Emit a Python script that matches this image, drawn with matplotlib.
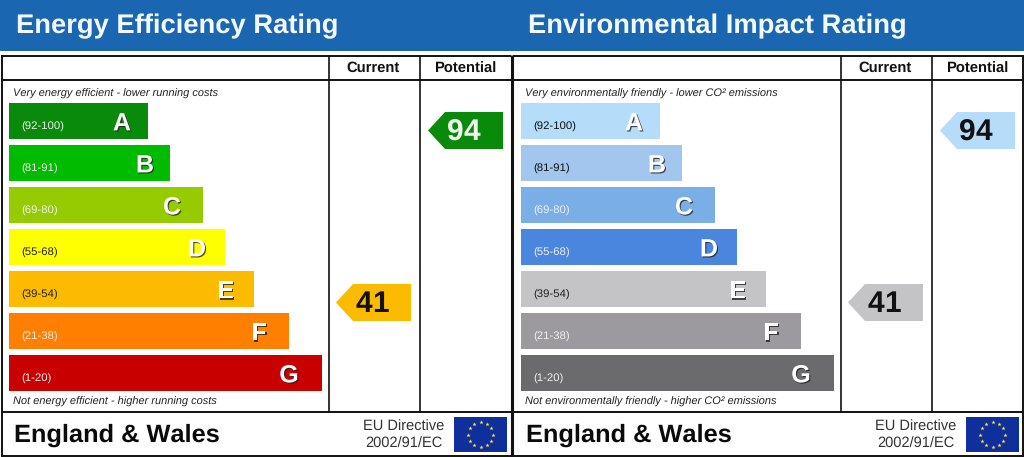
import numpy as np
import matplotlib
matplotlib.use('Agg')
import matplotlib.pyplot as plt
import matplotlib.patheffects as pe
from matplotlib.patches import Rectangle, Polygon

plt.rcParams['font.family'] = ['Liberation Sans', 'DejaVu Sans']
plt.rcParams['text.hinting'] = 'none'
plt.rcParams['text.kerning_factor'] = 6

letters = ['A', 'B', 'C', 'D', 'E', 'F', 'G']
ranges = ['(92-100)', '(81-91)', '(69-80)', '(55-68)', '(39-54)', '(21-38)', '(1-20)']
bar_widths = [139, 161, 194, 216, 245, 280, 313]
letter_offsets = [26, 25, 31, 28, 28, 30, 33]
energy_colors = ['#0a8a0a', '#00bb00', '#95cb00', '#ffff00', '#fdbb00', '#ff7f00', '#c80000']
energy_range_colors = ['#eeeeee', '#eeeeee', '#eeeeee', '#222222', '#222222', '#eeeeee', '#eeeeee']
impact_colors = ['#b5dcf8', '#a3c6ee', '#7aaee6', '#4a86dd', '#c4c3c6', '#9c9a9f', '#6b6a6d']
impact_range_colors = ['#111111', '#111111', '#eeeeee', '#eeeeee', '#222222', '#eeeeee', '#eeeeee']
current = 41
potential = 94

fig = plt.figure(figsize=(10.24, 4.57), dpi=100)
ax = fig.add_axes([0, 0, 1, 1])
ax.set_xlim(0, 1024)
ax.set_ylim(457, 0)
ax.axis('off')


def pointer(x, y, value, color, txt):
    # arrow pointing left, 75 wide and 37 high
    pts = [(x, y + 18.5), (x + 17, y), (x + 75, y), (x + 75, y + 37), (x + 17, y + 37)]
    ax.add_patch(Polygon(pts, closed=True, fc=color, ec='none'))
    # digits one by one, the font packs them too tight otherwise
    for k, digit in enumerate(str(value)):
        ax.text(x + 27.5 + 16.5 * k, y + 28.5, digit, color=txt, fontsize=21.5, fontweight='bold',
                ha='center', va='baseline')


def panel(x0, title, top, bottom, colors, range_colors, arrow, arrow_txt):
    ax.add_patch(Rectangle((x0, 0), 512, 50.5, fc='#1a66b0', ec='none'))
    ax.text(x0 + 16, 33, title, color='#f2f8fc', fontsize=19.7, fontweight='bold', va='baseline')

    # frame
    for yy in [56, 79.5, 411.5, 455.5]:
        ax.plot([x0 + 1, x0 + 511], [yy, yy], color='#111111', lw=1.4, solid_capstyle='butt')
    ax.plot([x0 + 328.5, x0 + 328.5], [55.5, 411.5], color='#111111', lw=1.2)
    ax.plot([x0 + 419.5, x0 + 419.5], [55.5, 411.5], color='#111111', lw=1.2)

    ax.text(x0 + 373, 72, 'Current', color='#111111', fontsize=10.6, fontweight='bold',
            ha='center', va='baseline')
    ax.text(x0 + 465, 72.6, 'Potential', color='#111111', fontsize=10.6, fontweight='bold',
            ha='center', va='baseline')

    ax.text(x0 + 13, 96.5, top, color='#222222', fontsize=7.9, style='italic', va='baseline')
    ax.text(x0 + 13, 405, bottom, color='#222222', fontsize=7.9, style='italic', va='baseline')

    for i, letter in enumerate(letters):
        y = 103 + 42 * i
        w = bar_widths[i]
        ax.add_patch(Rectangle((x0 + 9, y), w, 36, fc=colors[i], ec='none'))
        ax.text(x0 + 21.5, y + 26.7, ranges[i], color=range_colors[i], fontsize=8.2, va='baseline')
        ax.text(x0 + 9 + w - letter_offsets[i], y + 27.4, letter, color='white', fontsize=18,
                fontweight='bold', ha='center', va='baseline',
                path_effects=[pe.withSimplePatchShadow(offset=(0.8, -0.8), shadow_rgbFace='#222222', alpha=0.8)])

    pointer(x0 + 428, 112, potential, arrow[0], arrow_txt[0])
    pointer(x0 + 336, 284, current, arrow[1], arrow_txt[1])

    ax.text(x0 + 14, 442, 'England & Wales', color='#0a0a0a', fontsize=18.3, fontweight='bold', va='baseline')
    ax.text(x0 + 404, 430.5, 'EU Directive', color='#333333', fontsize=10.5, ha='center', va='baseline')
    ax.text(x0 + 404, 448, '2002/91/EC', color='#333333', fontsize=10.5, ha='center', va='baseline')

    # EU flag
    ax.add_patch(Rectangle((x0 + 454, 417), 53, 35, fc='#0f2f9a', ec='none'))
    ang = np.arange(12) * np.pi / 6
    ax.scatter(x0 + 480.5 + 12.5 * np.cos(ang), 434.5 + 12.5 * np.sin(ang), marker='*', s=10,
               color='#ffe24a', linewidths=0, zorder=3)


panel(0, 'Energy Efficiency Rating',
      'Very energy efficient - lower running costs',
      'Not energy efficient - higher running costs',
      energy_colors, energy_range_colors,
      ['#0a8a0a', '#fdbb00'], ['#f0f8f0', '#111111'])
panel(512, 'Environmental Impact Rating',
      'Very environmentally friendly - lower CO² emissions',
      'Not environmentally friendly - higher CO² emissions',
      impact_colors, impact_range_colors,
      ['#b5dcf8', '#c4c3c6'], ['#111111', '#111111'])

# outer edges and the thick divider between the panels
ax.plot([1.5, 1.5], [55, 456.5], color='#111111', lw=1.4, solid_capstyle='butt')
ax.plot([512.3, 512.3], [55, 456.5], color='#111111', lw=2.2, solid_capstyle='butt')
ax.plot([1023, 1023], [55, 456.5], color='#111111', lw=1.4, solid_capstyle='butt')

fig.savefig('out.png', dpi=100)
